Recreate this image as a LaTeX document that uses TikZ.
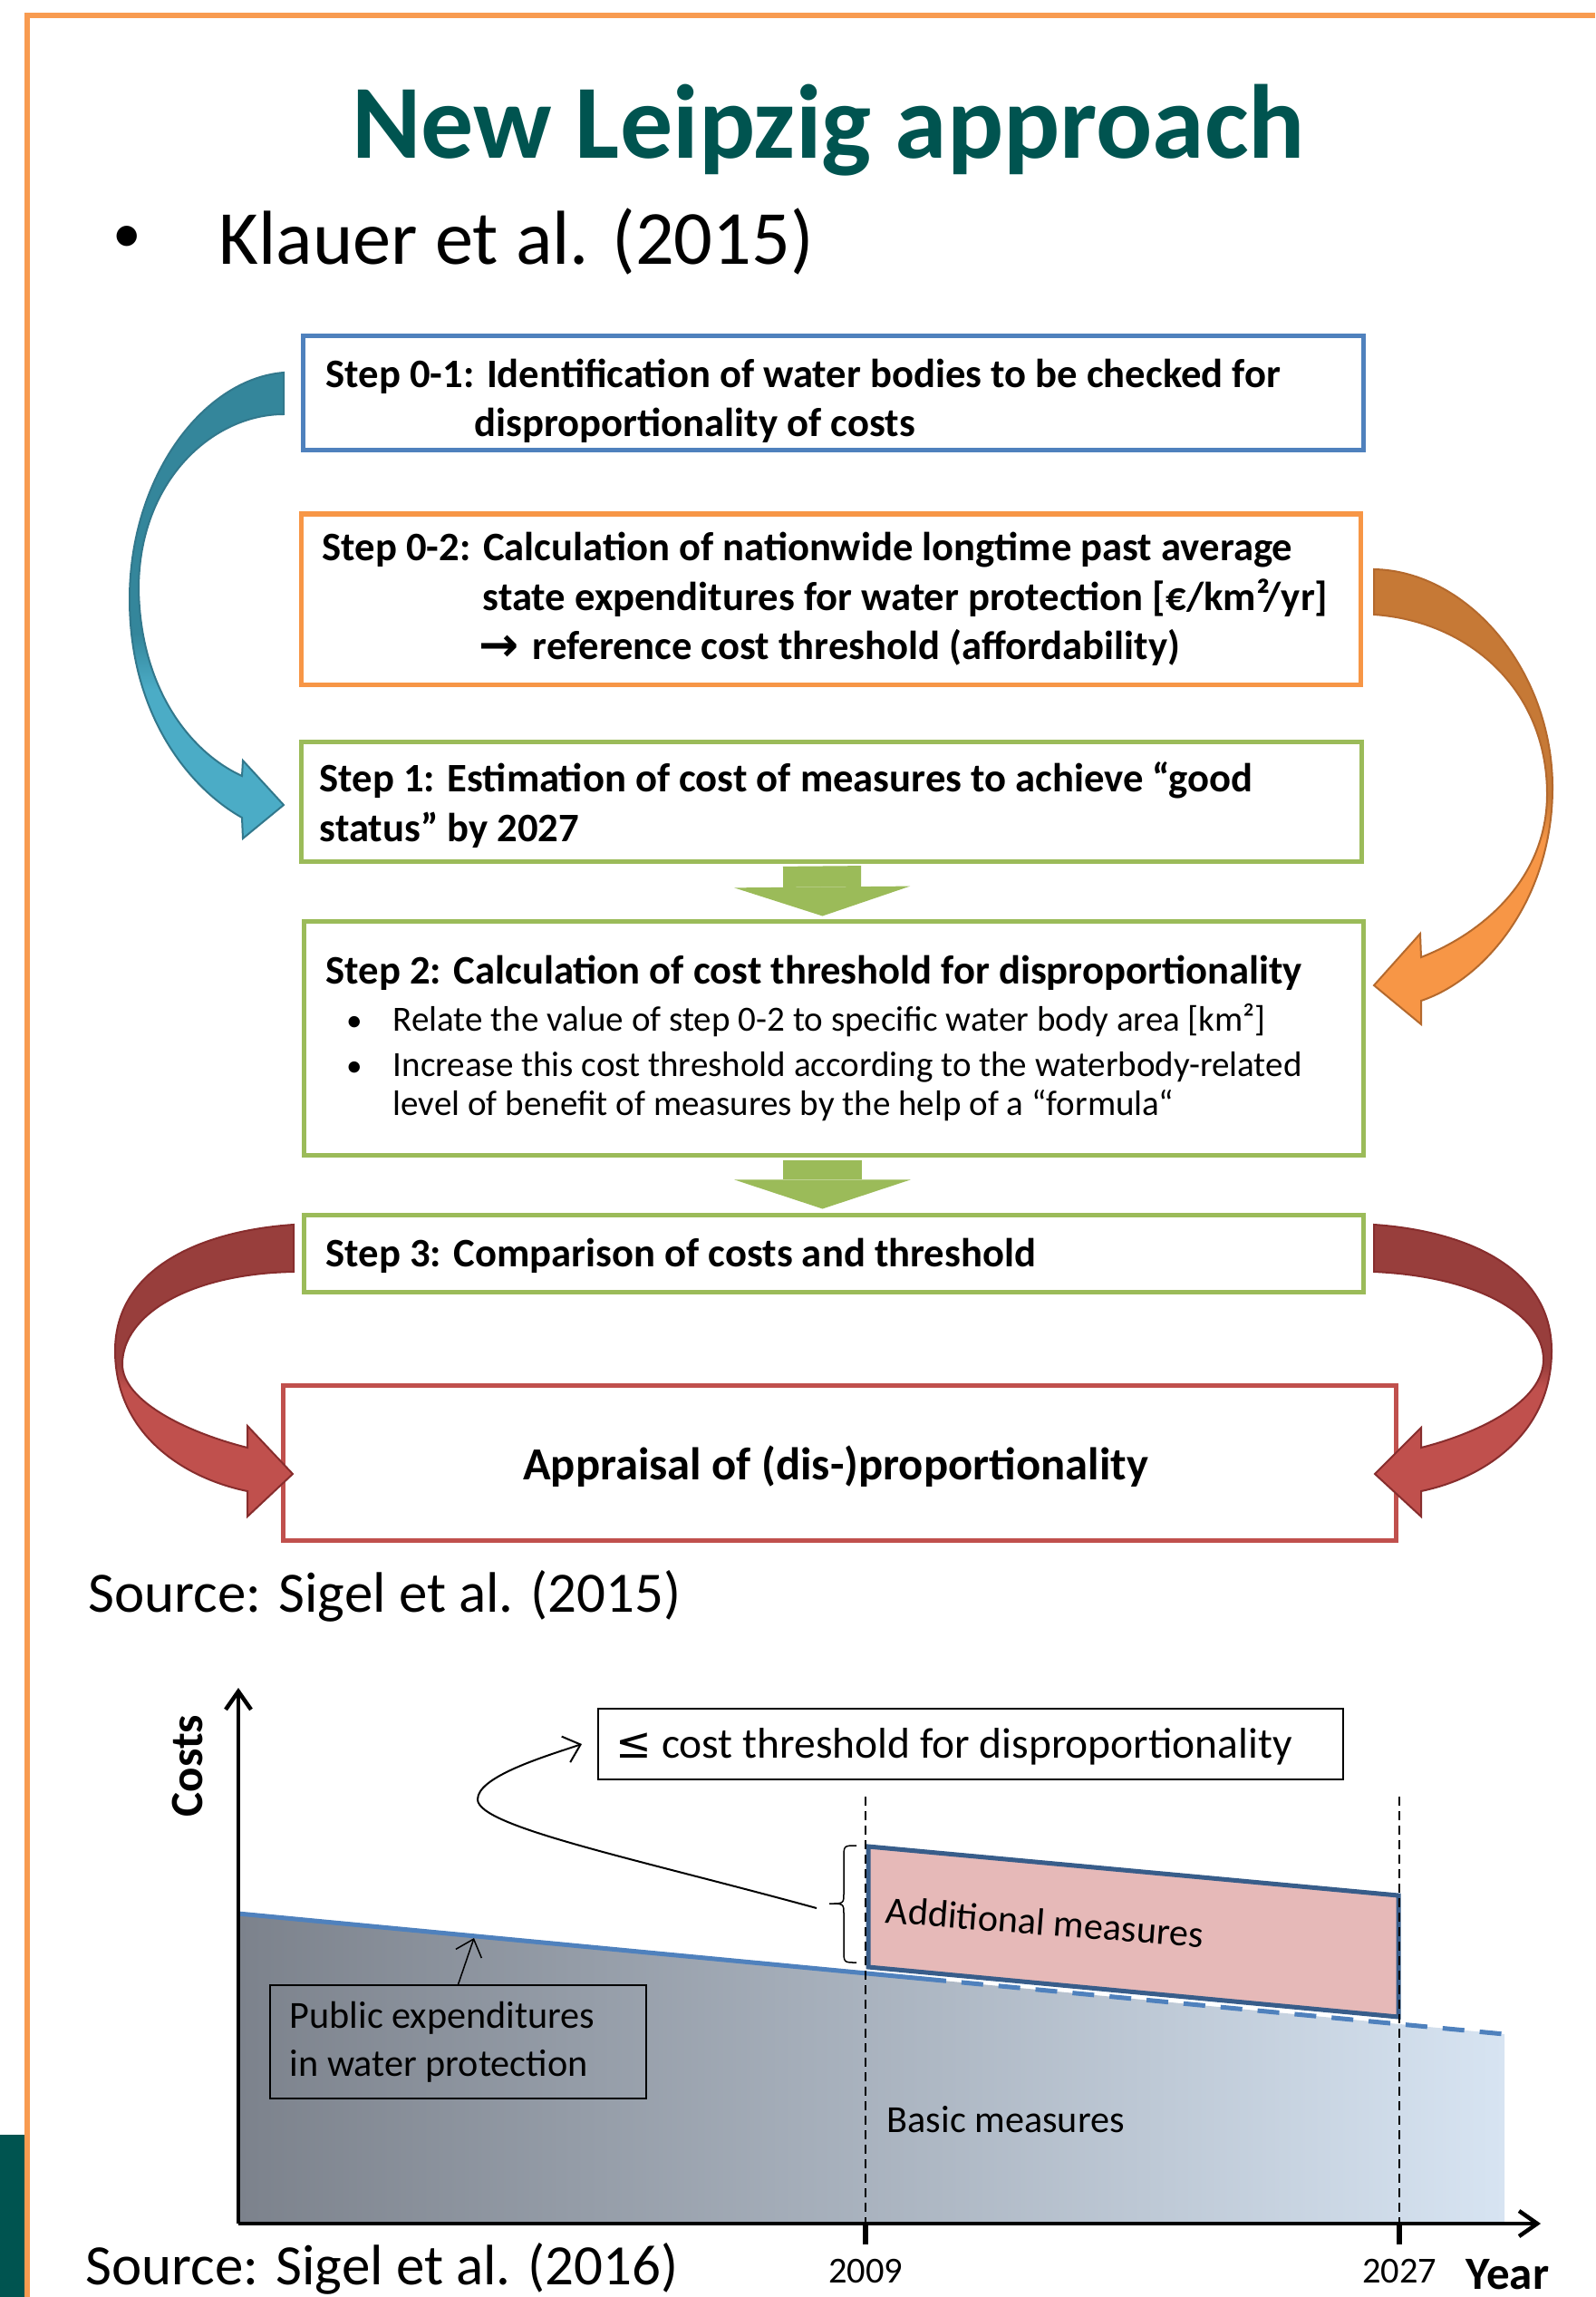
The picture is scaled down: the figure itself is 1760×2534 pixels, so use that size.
\documentclass[tikz,border=0pt]{standalone}
\usepackage{fontspec}
\setmainfont{Carlito}
\newfontfamily\symfont{DejaVu Sans}
\usetikzlibrary{arrows.meta,fit,calc}

\definecolor{leipzigteal}{RGB}{0,84,80}
\definecolor{frameorange}{RGB}{248,155,80}
\definecolor{boxblue}{RGB}{79,129,189}
\definecolor{boxorange}{RGB}{247,150,70}
\definecolor{boxgreen}{RGB}{155,187,89}
\definecolor{boxred}{RGB}{192,80,77}
\definecolor{tealtop}{RGB}{52,134,155}
\definecolor{tealbot}{RGB}{75,172,198}
\definecolor{tealedge}{RGB}{50,120,140}
\definecolor{orangetop}{RGB}{198,121,54}
\definecolor{orangebot}{RGB}{247,150,70}
\definecolor{orangeedge}{RGB}{180,105,45}
\definecolor{redtop}{RGB}{152,62,60}
\definecolor{redbot}{RGB}{192,80,77}
\definecolor{rededge}{RGB}{135,45,45}
\definecolor{costleft}{RGB}{124,130,140}
\definecolor{costright}{RGB}{215,228,242}
\definecolor{lineblue}{RGB}{79,129,189}
\definecolor{addfill}{RGB}{230,185,184}
\definecolor{addedge}{RGB}{56,93,138}

\pgfdeclareverticalshading{tealturn}{100bp}{color(0bp)=(tealbot); color(41bp)=(tealbot); color(47bp)=(tealtop); color(100bp)=(tealtop)}
\pgfdeclareverticalshading{orangeturn}{100bp}{color(0bp)=(orangebot); color(45bp)=(orangebot); color(50bp)=(orangetop); color(100bp)=(orangetop)}
\pgfdeclareverticalshading{redturn}{100bp}{color(0bp)=(redbot); color(47bp)=(redbot); color(51bp)=(redtop); color(100bp)=(redtop)}

\tikzset{
  stepbox/.style={draw, line width=0.05cm, fill=white, inner sep=0pt},
  steptext/.style={anchor=base west, inner sep=0pt, font=\bfseries\fontsize{12.7}{15}\selectfont},
  bullettext/.style={anchor=base west, inner sep=0pt, font=\fontsize{11.1}{13}\selectfont},
  greenarrow/.style={boxgreen, line width=0.86cm, -{Triangle[width=1.94cm,length=0.32cm,line width=0pt]}},
  turnarrow/.style={line width=0.02cm},
  charttext/.style={anchor=base west, inner sep=0pt, font=\fontsize{12}{14}\selectfont},
  axislabel/.style={inner sep=0pt, font=\bfseries\fontsize{14.5}{17}\selectfont},
  yearlabel/.style={anchor=base, inner sep=0pt, font=\fontsize{11.5}{14}\selectfont},
  thinarrow/.style={line width=0.02cm, -{Straight Barb[length=0.17cm,width=0.3cm]}},
}

\begin{document}
\begin{tikzpicture}[x=0.01cm, y=-0.01cm]
  \useasboundingbox (0,0) rectangle (1760,2534);
  %%frame
  \fill[leipzigteal] (0,2355) rectangle (27,2534);
  \draw[frameorange, line width=0.055cm] (1760,17) -- (30,17) -- (30,2534);

  %%title
  \node[anchor=base, inner sep=0pt, text=leipzigteal, font=\bfseries\fontsize{33}{40}\selectfont] (title) at (914,175) {New Leipzig approach};
  \node[inner sep=0pt, font=\fontsize{18}{22}\selectfont] (dot) at (140,264) {\textbullet};
  \node[anchor=base west, inner sep=0pt, font=\fontsize{24}{29}\selectfont] (klauer) at (241,292) {Klauer et al. (2015)};

  %%boxes
  \node[stepbox, draw=boxblue, fit={(334,371) (1504,497)}] (s01) {};
  \node[stepbox, draw=boxorange, fit={(332,567) (1501,755)}] (s02) {};
  \node[stepbox, draw=boxgreen, fit={(332,818) (1502,950)}] (s1) {};
  \node[stepbox, draw=boxgreen, fit={(335,1016) (1504,1274)}] (s2) {};
  \node[stepbox, draw=boxgreen, fit={(335,1340) (1504,1425)}] (s3) {};
  \node[stepbox, draw=boxred, fit={(312,1528) (1540,1699)}] (appr) {};

  %%green arrows
  \draw[greenarrow] ($(s1.south)+(-10,3)$) -- ($(s2.north)+(-12,-3)$);
  \draw[greenarrow] ($(s2.south)+(-12,3)$) -- ($(s3.north)+(-12,-4)$);

  %%step 0-1
  \node[steptext] (s01a) at (359,428) {Step 0-1: Identification of water bodies to be checked for};
  \node[steptext] (s01b) at (523,482) {disproportionality of costs};
  %%step 0-2
  \node[steptext] (s02a) at (355,618) {Step 0-2: Calculation of nationwide longtime past average};
  \node[steptext] (s02b) at (532,673) {state expenditures for water protection [€/km²/yr]};
  \node[steptext, font=\symfont\bfseries\fontsize{15}{17}\selectfont] (s02arrow) at (528,729) {→};
  \node[steptext] (s02c) at (587,727) {reference cost threshold (affordability)};
  %%step 1
  \node[steptext] (s1a) at (352,873) {Step 1: Estimation of cost of measures to achieve “good};
  \node[steptext] (s1b) at (352,928) {status” by 2027};
  %%step 2
  \node[steptext] (s2a) at (359,1085) {Step 2: Calculation of cost threshold for disproportionality};
  \node[anchor=base, inner sep=0pt, font=\fontsize{10}{12}\selectfont] (b1) at (391,1137) {\textbullet};
  \node[bullettext] (s2b) at (433,1137) {Relate the value of step 0-2 to specific water body area [km²]};
  \node[anchor=base, inner sep=0pt, font=\fontsize{10}{12}\selectfont] (b2) at (391,1187) {\textbullet};
  \node[bullettext] (s2c) at (433,1187) {Increase this cost threshold according to the waterbody-related};
  \node[bullettext] (s2d) at (433,1230) {level of benefit of measures by the help of a “formula“};
  %%step 3
  \node[steptext] (s3a) at (359,1397) {Step 3: Comparison of costs and threshold};
  \node[anchor=base, inner sep=0pt, font=\bfseries\fontsize{14.4}{17}\selectfont] (appra) at (922,1632) {Appraisal of (dis-)proportionality};

  %%turning arrows
  \shadedraw[turnarrow, shading=tealturn, draw=tealedge] (313,411) .. controls (225,418) and (143,525) .. (143,661) .. controls (143,790) and (210,870) .. (267,902) -- (268,925) -- (313,888) -- (268,839) -- (267,856) .. controls (210,830) and (155,760) .. (153,650) .. controls (153,530) and (235,457) .. (313,457) -- cycle;
  \shadedraw[turnarrow, shading=orangeturn, draw=orangeedge] (1516,628) .. controls (1620,630) and (1713,740) .. (1713,869) .. controls (1713,990) and (1640,1080) .. (1568,1104) -- (1568,1130) -- (1516,1087) -- (1567,1030) -- (1568,1056) .. controls (1635,1030) and (1707,970) .. (1707,876) .. controls (1707,760) and (1620,685) .. (1516,678) -- cycle;
  \shadedraw[turnarrow, shading=redturn, draw=rededge] (324,1351) .. controls (220,1358) and (127,1400) .. (127,1490) .. controls (127,1580) and (200,1630) .. (273,1645) -- (273,1673) -- (323,1626) -- (273,1573) -- (273,1597) .. controls (205,1580) and (135,1545) .. (135,1505) .. controls (135,1450) and (210,1405) .. (324,1403) -- cycle;
  \shadedraw[turnarrow, shading=redturn, draw=rededge] (1516,1351) .. controls (1620,1358) and (1712,1400) .. (1712,1490) .. controls (1712,1580) and (1640,1630) .. (1568,1645) -- (1568,1673) -- (1517,1626) -- (1568,1575) -- (1568,1597) .. controls (1635,1580) and (1703,1545) .. (1703,1500) .. controls (1703,1450) and (1630,1408) .. (1516,1403) -- cycle;

  \node[anchor=base west, inner sep=0pt, font=\fontsize{17.9}{21}\selectfont] (src1) at (97,1778) {Source: Sigel et al. (2015)};

  %%chart
  \coordinate (O) at (263,2453);
  \shade[left color=costleft, right color=costright] (263,2111) -- (1660,2244) -- (1660,2453) -- (263,2453) -- cycle;
  \draw[lineblue, line width=0.05cm] (263,2111) -- (1020,2183);
  \draw[lineblue, line width=0.05cm, dash pattern=on 0.24cm off 0.17cm] (1020,2183) -- (1660,2244);
  \draw[addedge, fill=addfill, line width=0.05cm] (958,2037) -- (1543,2091) -- (1543,2225) -- (958,2170) -- cycle;
  \node[charttext, rotate=-4.5] (addm) at (976,2121) {Additional measures};
  \node[charttext] (basic) at (978,2352) {Basic measures};
  \draw[line width=0.02cm, dash pattern=on 0.1cm off 0.06cm] (955,1982) -- (955,2453);
  \draw[line width=0.02cm, dash pattern=on 0.1cm off 0.06cm] (1544,1982) -- (1544,2453);
  \draw[line width=0.045cm, -{Straight Barb[length=0.2cm,width=0.28cm]}] (O) -- (263,1862);
  \draw[line width=0.045cm, -{Straight Barb[length=0.2cm,width=0.28cm]}] (O) -- (1700,2453);
  \draw[line width=0.06cm] (955,2453) -- (955,2476);
  \draw[line width=0.06cm] (1544,2453) -- (1544,2476);
  \node[yearlabel] (y2009) at (955,2518) {2009};
  \node[yearlabel] (y2027) at (1544,2518) {2027};
  \node[axislabel, anchor=base west] (year) at (1617,2525) {Year};
  \node[axislabel, rotate=90] (costs) at (207,1948) {Costs};

  %%threshold
  \node[draw, line width=0.02cm, fill=white, inner sep=0pt, fit={(660,1885) (1482,1963)}] (thr) {};
  \node[anchor=base west, inner sep=0pt, font=\fontsize{13.5}{16}\selectfont] (thrtext) at (679,1939) {{\symfont ≤} cost threshold for disproportionality};
  \coordinate (bracetip) at (915,2100);
  \draw[line width=0.015cm] (945,2036) .. controls (931,2036) .. (931,2050) -- (931,2088) .. controls (931,2100) .. (bracetip) .. controls (931,2100) .. (931,2112) -- (931,2151) .. controls (931,2165) .. (945,2165);
  \draw[thinarrow] ($(bracetip)+(-14,5)$) .. controls (700,2050) and (527,2015) .. (527,1985) .. controls (527,1960) and (600,1938) .. ($(thr.west)+(-17,0)$);

  %%public expenditures
  \node[draw, line width=0.015cm, inner sep=0pt, fit={(298,2190) (713,2315)}] (pub) {};
  \node[charttext] (pub1) at (319,2237) {Public expenditures};
  \node[charttext] (pub2) at (319,2290) {in water protection};
  \coordinate (pubtip) at (523,2138);
  \draw[thinarrow, line width=0.015cm] (pub.north) -- (pubtip);

  \node[anchor=base west, inner sep=0pt, font=\fontsize{17.9}{21}\selectfont] (src2) at (94,2520) {Source: Sigel et al. (2016)};
\end{tikzpicture}
\end{document}
